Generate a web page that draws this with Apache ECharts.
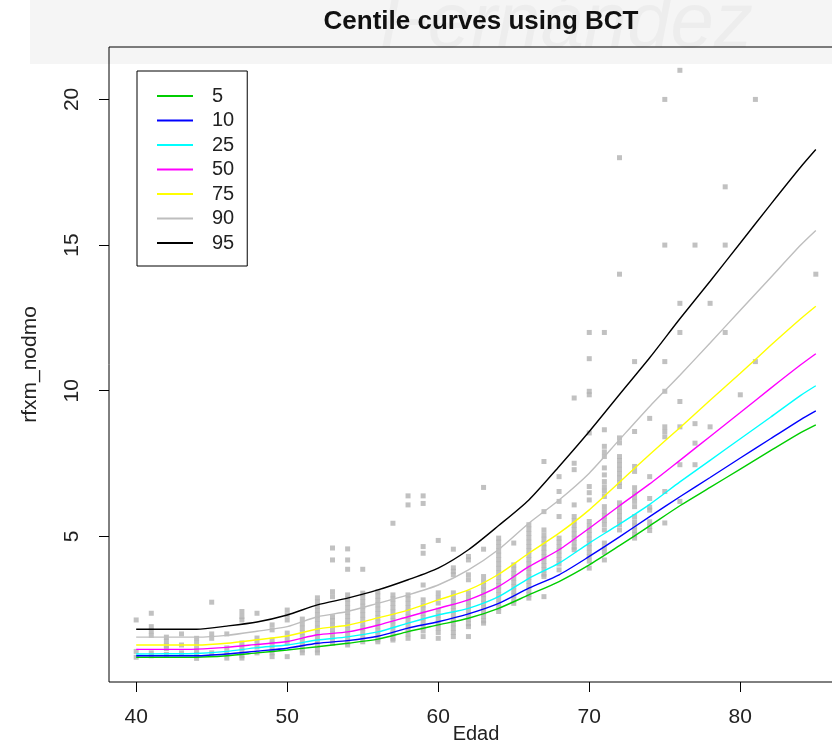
<!DOCTYPE html>
<html>
<head>
<meta charset="UTF-8">
<title>Centile curves using BCT</title>
<script src="https://cdn.jsdelivr.net/npm/echarts@6/dist/echarts.min.js"></script>
<style>
  html, body { margin: 0; padding: 0; background: #fff; }
  #main { width: 832px; height: 745px; }
</style>
</head>
<body>
<div id="main"></div>
<script type="text/javascript">
// observed points: one list of rfxm_nodmo values per age
var obsAges = [40, 41, 42, 43, 44, 45, 46, 47, 48, 49, 50, 51, 52, 53, 54, 55, 56, 57, 58, 59, 60,
               61, 62, 63, 64, 65, 66, 67, 68, 69, 70, 71, 72, 73, 74, 75, 76, 77, 78, 79, 80, 81, 85];
var obsValues = [
  [2.13, 1.05, 0.85],
  [2.36, 1.9, 1.75, 1.6, 1.0, 0.9],
  [1.54, 1.4, 1.25, 1.15, 0.95],
  [1.65, 1.27, 1.0],
  [1.5, 1.35, 1.2, 1.05, 0.95, 0.81],
  [2.74, 1.65, 1.5, 1.0],
  [1.65, 1.17, 1.0, 0.82],
  [2.42, 2.25, 2.13, 1.34, 1.2, 1.05, 0.9, 0.82],
  [2.36, 1.51, 1.35, 1.2, 1.0],
  [1.96, 1.79, 1.44, 1.3, 1.15, 1.0, 0.87],
  [2.47, 2.3, 2.13, 1.68, 1.5, 1.34, 0.87],
  [2.16, 2.0, 1.85, 1.7, 1.55, 1.4, 1.25, 1.1, 1.0],
  [2.89, 2.75, 2.6, 2.45, 2.3, 2.15, 2.0, 1.85, 1.7, 1.55, 1.4, 1.25, 1.1, 1.0],
  [4.6, 4.19, 3.1, 2.93, 2.24, 2.1, 1.95, 1.8, 1.65, 1.5, 1.33],
  [4.57, 4.19, 3.87, 2.99, 2.85, 2.7, 2.55, 2.4, 2.25, 2.1, 1.95, 1.8, 1.65, 1.5, 1.35, 1.27],
  [3.87, 3.05, 2.9, 2.75, 2.6, 2.45, 2.3, 2.15, 2.0, 1.85, 1.7, 1.55, 1.38],
  [3.1, 2.95, 2.8, 2.65, 2.5, 2.35, 2.2, 2.05, 1.9, 1.75, 1.6, 1.45, 1.38],
  [5.45, 2.99, 2.85, 2.7, 2.55, 2.4, 2.25, 2.1, 1.95, 1.8, 1.65, 1.5, 1.44],
  [6.39, 6.08, 2.99, 2.85, 2.7, 2.55, 2.4, 2.25, 2.1, 1.95, 1.8, 1.65, 1.5],
  [6.39, 6.13, 4.65, 4.42, 3.33, 2.82, 2.65, 2.5, 2.35, 2.2, 2.05, 1.9, 1.75, 1.56],
  [4.86, 3.06, 2.9, 2.71, 2.47, 2.3, 2.15, 2.0, 1.85, 1.7, 1.5],
  [4.56, 3.92, 3.8, 3.68, 3.06, 2.9, 2.75, 2.6, 2.45, 2.3, 2.15, 2.0, 1.85, 1.7, 1.56],
  [4.31, 4.19, 3.68, 3.51, 3.06, 2.9, 2.75, 2.6, 2.45, 2.3, 2.15, 2.0, 1.9, 1.56],
  [6.68, 4.56, 3.62, 3.45, 3.3, 3.15, 3.0, 2.85, 2.7, 2.55, 2.4, 2.25, 2.1, 2.02],
  [4.94, 4.8, 4.65, 4.5, 4.35, 4.2, 4.05, 3.9, 3.75, 3.6, 3.45, 3.3, 3.15, 3.0, 2.85, 2.7, 2.55, 2.42],
  [4.77, 4.02, 3.87, 3.72, 3.57, 3.42, 3.27, 3.12, 2.97, 2.82, 2.7],
  [5.4, 5.25, 5.1, 4.95, 4.8, 4.65, 4.5, 4.35, 4.2, 4.05, 3.9, 3.75, 3.6, 3.45, 3.3, 3.15, 3.0, 2.88],
  [7.57, 5.85, 5.22, 5.05, 4.9, 4.75, 4.6, 4.45, 4.3, 4.15, 4.0, 3.85, 3.7, 3.62, 2.93],
  [7.05, 6.54, 6.2, 5.68, 4.94, 4.8, 4.65, 4.5, 4.35, 4.2, 4.05, 3.85],
  [9.75, 7.51, 7.29, 6.08, 5.68, 5.53, 5.38, 5.23, 5.08, 4.93, 4.78, 4.63, 4.54],
  [12.0, 11.1, 9.98, 9.86, 8.55, 6.71, 6.5, 6.25, 5.51, 5.35, 5.2, 5.05, 4.9, 4.75, 4.6, 4.45, 4.3, 4.15, 3.91],
  [12.0, 8.66, 8.09, 7.9, 7.74, 7.35, 7.11, 6.88, 6.7, 6.55, 6.37, 6.02, 5.85, 5.7, 5.55, 5.4, 5.22, 4.77, 4.6, 4.45, 4.19],
  [18.0, 14.0, 8.38, 8.21, 7.74, 7.6, 7.45, 7.3, 7.15, 7.0, 6.85, 6.71, 6.15, 6.0, 5.85, 5.7, 5.55, 5.4, 5.22],
  [11.0, 8.6, 7.4, 7.23, 6.67, 6.5, 6.35, 6.2, 6.02, 5.68, 5.5, 5.35, 5.2, 5.05, 4.94],
  [9.05, 7.05, 6.3, 6.0, 5.9, 5.5, 5.34, 5.2],
  [20.0, 15.0, 11.0, 9.98, 8.76, 8.6, 8.42, 6.54, 5.46],
  [21.0, 13.0, 12.0, 9.63, 8.76, 7.46, 6.2],
  [15.0, 8.87, 8.2, 7.46],
  [13.0, 8.76],
  [17.0, 15.0, 12.0],
  [9.86],
  [20.0, 11.0],
  [14.0]
];

// fitted centile curves
var centileAges = [40, 42, 44, 46, 48, 50, 52, 54, 56, 58, 60, 62, 64, 66, 68, 70, 72, 74, 76, 78, 80, 82, 84, 85];
var c5  = [0.85, 0.85, 0.85, 0.90, 1.00, 1.10, 1.21, 1.33, 1.47, 1.73, 1.96, 2.19, 2.53, 2.99, 3.45, 4.02, 4.68, 5.36, 6.05, 6.68, 7.31, 7.94, 8.56, 8.83];
var c10 = [0.90, 0.90, 0.90, 0.96, 1.06, 1.16, 1.33, 1.42, 1.57, 1.85, 2.07, 2.34, 2.70, 3.22, 3.68, 4.31, 4.98, 5.68, 6.36, 7.02, 7.69, 8.35, 9.01, 9.31];
var c25 = [0.96, 0.97, 0.98, 1.05, 1.18, 1.27, 1.44, 1.55, 1.72, 2.02, 2.30, 2.53, 2.93, 3.56, 4.08, 4.77, 5.42, 6.10, 6.87, 7.61, 8.35, 9.09, 9.84, 10.17];
var c50 = [1.12, 1.12, 1.13, 1.19, 1.29, 1.39, 1.62, 1.72, 1.95, 2.24, 2.53, 2.82, 3.28, 3.96, 4.54, 5.28, 6.05, 6.80, 7.61, 8.43, 9.25, 10.08, 10.89, 11.27];
var c75 = [1.27, 1.27, 1.27, 1.33, 1.45, 1.58, 1.82, 1.95, 2.20, 2.47, 2.82, 3.16, 3.70, 4.42, 5.11, 5.91, 6.86, 7.81, 8.73, 9.67, 10.60, 11.55, 12.47, 12.90];
var c90 = [1.54, 1.54, 1.54, 1.60, 1.74, 1.90, 2.24, 2.42, 2.70, 2.99, 3.33, 3.85, 4.55, 5.45, 6.25, 7.17, 8.32, 9.46, 10.53, 11.64, 12.76, 13.88, 15.00, 15.50];
var c95 = [1.81, 1.81, 1.81, 1.92, 2.06, 2.30, 2.65, 2.88, 3.16, 3.51, 3.91, 4.54, 5.37, 6.25, 7.40, 8.60, 9.87, 11.13, 12.47, 13.76, 15.07, 16.39, 17.68, 18.28];

var centileNames = ['5', '10', '25', '50', '75', '90', '95'];
var centileValues = [c5, c10, c25, c50, c75, c90, c95];
var centileColors = ['#00cd00', '#0000ff', '#00ffff', '#ff00ff', '#ffff00', '#bebebe', '#000000'];

var xTicks = [40, 50, 60, 70, 80];
var yTicks = [5, 10, 15, 20];

var FONT = '"Liberation Sans", Arial, sans-serif';

var points = [];
obsAges.forEach(function (age, i) {
    obsValues[i].forEach(function (v) { points.push([age, v]); });
});

var series = [{
    type: 'scatter',
    name: 'obs',
    data: points,
    symbol: 'rect',
    symbolSize: [5, 5],
    itemStyle: { color: '#b2b2b2' },
    z: 1,
    silent: true
}];
centileNames.forEach(function (name, i) {
    series.push({
        type: 'line',
        name: name,
        data: centileAges.map(function (a, j) { return [a, centileValues[i][j]]; }),
        showSymbol: false,
        symbol: 'none',
        smooth: 0.25,
        lineStyle: { color: centileColors[i], width: 1.4 },
        itemStyle: { color: centileColors[i] },
        z: 3
    });
});

var myChart = echarts.init(document.getElementById('main'));
var option = {
    backgroundColor: '#fff',
    animation: false,
    graphic: [
        { type: 'rect', shape: { x: 30, y: 0, width: 802, height: 64 }, style: { fill: '#f5f5f5' }, z: -10, silent: true },
        { type: 'text', x: 380, y: -14, style: { text: 'Fernández', font: 'italic 78px "Liberation Sans", Arial, sans-serif', fill: '#ededed' }, z: -9, silent: true }
    ],
    title: {
        text: 'Centile curves using BCT',
        left: 476,
        top: 4,
        textAlign: 'center',
        textStyle: { fontFamily: FONT, fontSize: 26, fontWeight: 'bold', color: '#111' }
    },
    legend: {
        data: centileNames,
        orient: 'vertical',
        left: 137,
        top: 71,
        padding: [15, 13, 13, 20],
        itemGap: 4.5,
        itemWidth: 36,
        itemHeight: 2,
        icon: 'rect',
        borderColor: '#000',
        borderWidth: 1,
        backgroundColor: '#fff',
        textStyle: { fontFamily: FONT, fontSize: 20, lineHeight: 20, color: '#222', padding: [0, 0, 0, 14] }
    },
    grid: {
        left: 109,
        right: -11,
        top: 47,
        bottom: 63,
        outerBoundsMode: 'none',
        containLabel: false,
        show: true,
        borderColor: '#000',
        borderWidth: 1,
        backgroundColor: 'transparent'
    },
    xAxis: {
        type: 'value',
        min: 38.2,
        max: 86.8,
        name: 'Edad',
        nameLocation: 'middle',
        nameGap: 42,
        nameMoveOverlap: false,
        nameTextStyle: { fontFamily: FONT, fontSize: 20, color: '#222' },
        axisLine: { show: false },
        axisTick: { show: true, customValues: xTicks, length: 10, lineStyle: { color: '#000' } },
        axisLabel: { customValues: xTicks, fontFamily: FONT, fontSize: 21, color: '#222', margin: 25 },
        splitLine: { show: false }
    },
    yAxis: {
        type: 'value',
        min: 0,
        max: 21.8,
        name: 'rfxm_nodmo',
        nameLocation: 'middle',
        nameGap: 68,
        nameMoveOverlap: false,
        nameTextStyle: { fontFamily: FONT, fontSize: 21, color: '#222' },
        axisLine: { show: false },
        axisTick: { show: true, customValues: yTicks, length: 10, lineStyle: { color: '#000' } },
        axisLabel: { customValues: yTicks, rotate: 90, fontFamily: FONT, fontSize: 21, color: '#222', margin: 26 },
        splitLine: { show: false }
    },
    series: series
};
myChart.setOption(option);
</script>
</body>
</html>
